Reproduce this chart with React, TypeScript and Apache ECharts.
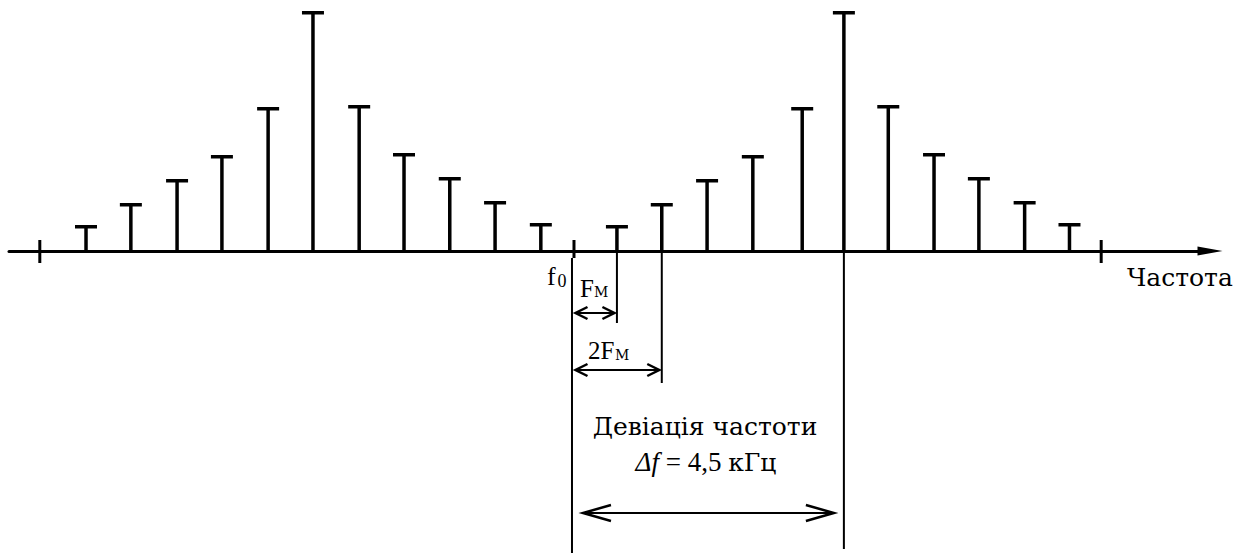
import React, { useEffect, useRef } from "react";
import * as echarts from "echarts";

// Frequencies in units of the modulating frequency F_M, relative to f0
const FREQ_LEFT = [-10.75, -9.76, -8.74, -7.75, -6.73, -5.74, -4.72, -3.73, -2.72, -1.72, -0.71];
const AMP_LEFT = [26, 48, 72, 96, 144, 240, 146, 98, 74, 50, 28];
const FREQ_RIGHT = [0.97, 1.96, 2.96, 3.97, 5.06, 5.98, 6.96, 7.97, 8.96, 9.97, 10.96];
const AMP_RIGHT = [26, 48, 72, 96, 144, 240, 146, 98, 74, 50, 28];
const AXIS_MARKS = [-11.77, 0, 11.66];

// Dimension lines: f0, F_M, 2F_M, f0 + Δf
const DIM_X = [0, 0.97, 1.96, 5.98];
const DIM_TOP = [-7, 0, 0, 0];
const DIM_BOTTOM = [-302, -72, -132, -298];

// Dimension arrows
const ARROW_FROM = [0, 0, 0];
const ARROW_TO = [0.97, 1.96, 5.98];
const ARROW_LEVEL = [-62, -119, -262];

const X_MIN = -12.45;
const X_MAX = 14.062;
const Y_MIN = -304;
const Y_MAX = 251;

const FONT = "Liberation Serif, DejaVu Serif, serif";
const FONT_CYR = "DejaVu Serif, Liberation Serif, serif";

export default function App() {
  const ref = useRef<HTMLDivElement>(null);

  useEffect(() => {
    if (!ref.current) return;
    const chart = echarts.init(ref.current, null, { renderer: "svg" });

    const stemData = [
      ...FREQ_LEFT.map((f, i) => [f, AMP_LEFT[i]]),
      ...FREQ_RIGHT.map((f, i) => [f, AMP_RIGHT[i]]),
    ];

    const txt = (text: string, x: number, y: number, size: number, align = "left", extra: any = {}) => ({
      type: "text",
      x,
      y,
      style: {
        text,
        fontFamily: FONT,
        fontSize: size,
        fill: "#000",
        align,
        verticalAlign: "middle",
        ...extra,
      },
    });

    const option: any = {
      animation: false,
      backgroundColor: "#fff",
      grid: { left: 9, right: 34, top: 0, bottom: 0 },
      xAxis: {
        type: "value",
        min: X_MIN,
        max: X_MAX,
        axisLine: {
          show: true,
          onZero: true,
          symbol: ["none", "triangle"],
          symbolSize: [9, 25],
          lineStyle: { color: "#000", width: 3 },
        },
        axisTick: { show: false },
        axisLabel: { show: false },
        splitLine: { show: false },
      },
      yAxis: {
        type: "value",
        min: Y_MIN,
        max: Y_MAX,
        show: false,
      },
      series: [
        {
          type: "custom",
          data: stemData,
          renderItem: (params: any, api: any) => {
            const x = api.value(0);
            const a = api.value(1);
            const p0 = api.coord([x, 0]);
            const p1 = api.coord([x, a]);
            return {
              type: "group",
              children: [
                {
                  type: "line",
                  shape: { x1: p0[0], y1: p0[1], x2: p1[0], y2: p1[1] + 1.5 },
                  style: { stroke: "#000", lineWidth: 3.5 },
                },
                {
                  type: "line",
                  shape: { x1: p1[0] - 11, y1: p1[1] + 1.75, x2: p1[0] + 11, y2: p1[1] + 1.75 },
                  style: { stroke: "#000", lineWidth: 3.5 },
                },
              ],
            };
          },
        },
        {
          type: "custom",
          data: AXIS_MARKS.map((x) => [x]),
          renderItem: (params: any, api: any) => {
            const x = api.value(0);
            const top = api.coord([x, 11]);
            const bot = api.coord([x, x === 0 ? -7 : -12]);
            return {
              type: "line",
              shape: { x1: top[0] + (x === 0 ? 1 : 0), y1: top[1], x2: bot[0] + (x === 0 ? 1 : 0), y2: bot[1] },
              style: { stroke: "#000", lineWidth: 3 },
            };
          },
        },
        {
          type: "custom",
          data: DIM_X.map((x, i) => [x, DIM_TOP[i], DIM_BOTTOM[i]]),
          renderItem: (params: any, api: any) => {
            const x = api.value(0);
            const p0 = api.coord([x, api.value(1)]);
            const p1 = api.coord([x, api.value(2)]);
            return {
              type: "line",
              shape: { x1: p0[0] - (x === 0 ? 1 : 0), y1: p0[1], x2: p1[0] - (x === 0 ? 1 : 0), y2: p1[1] },
              style: { stroke: "#000", lineWidth: 2 },
            };
          },
        },
        {
          type: "custom",
          data: ARROW_FROM.map((f, i) => [f, ARROW_TO[i], ARROW_LEVEL[i]]),
          renderItem: (params: any, api: any) => {
            const pa = api.coord([api.value(0), api.value(2)]);
            const pb = api.coord([api.value(1), api.value(2)]);
            const big = pb[0] - pa[0] > 150;
            const inset = big ? 10 : 2.5;
            const hl = big ? 28 : 12;
            const hw = big ? 8 : 6;
            const xa = pa[0] + inset;
            const xb = pb[0] - inset;
            const y = pa[1];
            const st = { stroke: "#000", lineWidth: 2.5, fill: "none" };
            return {
              type: "group",
              children: [
                { type: "line", shape: { x1: xa, y1: y, x2: xb, y2: y }, style: { stroke: "#000", lineWidth: 2 } },
                { type: "polyline", shape: { points: [[xa + hl, y - hw], [xa, y], [xa + hl, y + hw]] }, style: st },
                { type: "polyline", shape: { points: [[xb - hl, y - hw], [xb, y], [xb - hl, y + hw]] }, style: st },
              ],
            };
          },
        },
      ],
      graphic: [
        txt("f", 547, 276, 26),
        txt("0", 557.5, 281, 18),
        txt("F", 580, 288, 25),
        txt("М", 594, 292, 16, "left", { fontFamily: FONT_CYR, fontSize: 14 }),
        txt("2F", 588, 350, 25),
        txt("М", 615, 355, 16, "left", { fontFamily: FONT_CYR, fontSize: 14 }),
        txt("Частота", 1127, 277, 25, "left", { fontFamily: FONT_CYR }),
        txt("Девіація частоти", 705, 426, 25, "center", { fontFamily: FONT_CYR }),
        txt("{i|Δf}{n| = 4,5 }{c|кГц}", 706, 462, 25, "center", {
          rich: {
            i: { fontFamily: FONT, fontSize: 27, fontStyle: "italic", fill: "#000" },
            n: { fontFamily: FONT, fontSize: 27, fill: "#000" },
            c: { fontFamily: FONT_CYR, fontSize: 25, fill: "#000" },
          },
        }),
      ],
    };

    chart.setOption(option);
    return () => chart.dispose();
  }, []);

  return (
    <div
      ref={ref}
      style={{ position: "fixed", left: 0, top: 0, width: 1244, height: 555, background: "#fff" }}
    />
  );
}
